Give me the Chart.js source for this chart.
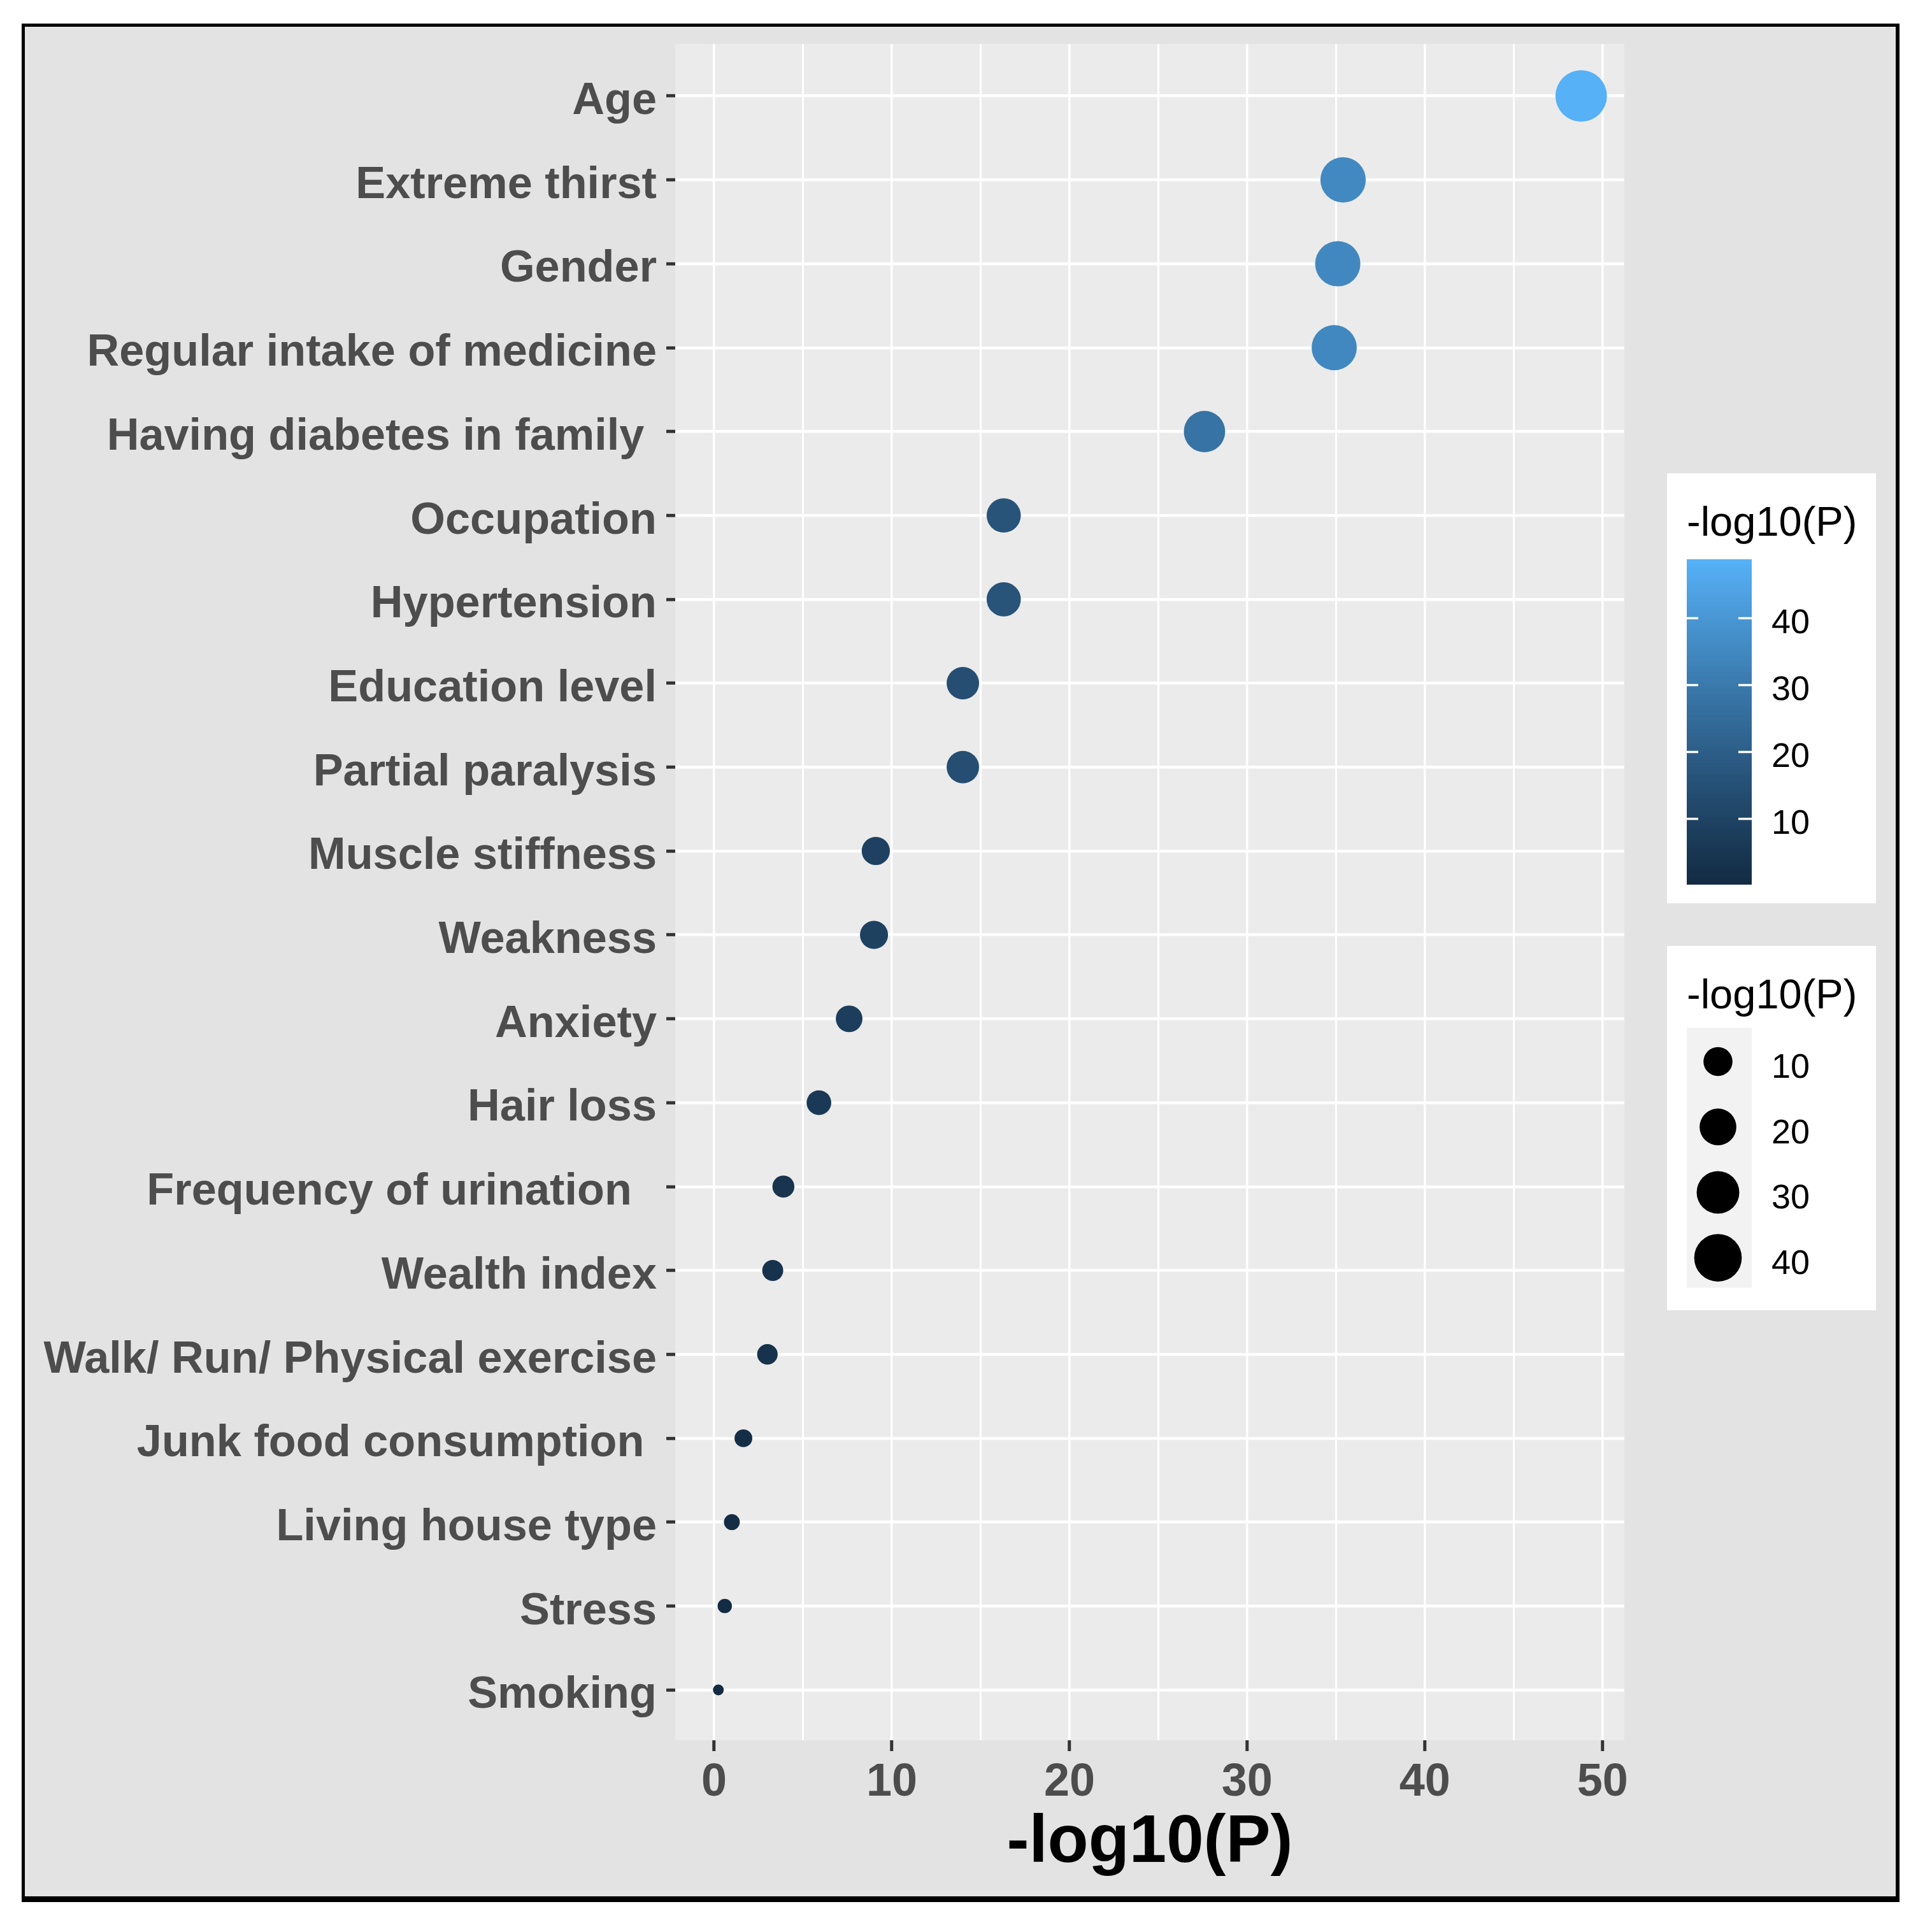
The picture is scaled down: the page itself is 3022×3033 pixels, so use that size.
<!DOCTYPE html>
<html><head><meta charset="utf-8">
<script src="https://cdn.jsdelivr.net/npm/chart.js@4"></script>
<style>html,body{margin:0;padding:0;background:#fff;} canvas{display:block;}</style>
</head><body>
<canvas id="c" width="3022" height="3033" style="width:3022px;height:3033px"></canvas>
<script>
// ---------- DATA ----------
const categories = ["Age","Extreme thirst","Gender","Regular intake of medicine","Having diabetes in family ","Occupation","Hypertension","Education level","Partial paralysis","Muscle stiffness","Weakness","Anxiety","Hair loss","Frequency of urination  ","Wealth index","Walk/ Run/ Physical exercise","Junk food consumption ","Living house type","Stress","Smoking"];
const values = [48.8,35.4,35.1,34.9,27.6,16.3,16.3,14.0,14.0,9.1,9.0,7.6,5.9,3.9,3.3,3.0,1.65,1.0,0.6,0.24];
const xTickValues = [0,10,20,30,40,50];
const xMinorValues = [5,15,25,35,45];
const legendBreaks = [10,20,30,40];
const axisTitle = "-log10(P)";
const legendTitle = "-log10(P)";
const lowColor = "#132B43", highColor = "#56B1F7";

// ---------- helpers ----------
const FONT = "'Liberation Sans', Arial, sans-serif";
const n = categories.length;
const vMin = Math.min(...values), vMax = Math.max(...values);
const span = vMax - vMin;

function hex2rgb(h){return [1,3,5].map(i=>parseInt(h.substr(i,2),16)/255);}
function lin(c){return c<=0.04045?c/12.92:Math.pow((c+0.055)/1.055,2.4);}
function delin(c){return c<=0.0031308?12.92*c:1.055*Math.pow(c,1/2.4)-0.055;}
const Wn=[0.95047,1.0,1.08883];
function f(t){return t>0.008856?Math.cbrt(t):7.787*t+16/116;}
function finv(t){const t3=t*t*t;return t3>0.008856?t3:(t-16/116)/7.787;}
function toLab(h){
  const [r,g,b]=hex2rgb(h).map(lin);
  const X=(0.4124564*r+0.3575761*g+0.1804375*b)/Wn[0];
  const Y=(0.2126729*r+0.7151522*g+0.0721750*b)/Wn[1];
  const Z=(0.0193339*r+0.1191920*g+0.9503041*b)/Wn[2];
  return [116*f(Y)-16,500*(f(X)-f(Y)),200*(f(Y)-f(Z))];
}
function fromLab([L,a,b]){
  const fy=(L+16)/116, fx=a/500+fy, fz=fy-b/200;
  const X=finv(fx)*Wn[0], Y=finv(fy)*Wn[1], Z=finv(fz)*Wn[2];
  let r= 3.2404542*X-1.5371385*Y-0.4985314*Z;
  let g=-0.9692660*X+1.8760108*Y+0.0415560*Z;
  let bb=0.0556434*X-0.2040259*Y+1.0572252*Z;
  return 'rgb('+[r,g,bb].map(c=>Math.round(Math.max(0,Math.min(1,delin(c)))*255)).join(',')+')';
}
const labLo=toLab(lowColor), labHi=toLab(highColor);
function colorOf(v){
  const t=Math.max(0,Math.min(1,(v-vMin)/span));
  return fromLab([0,1,2].map(i=>labLo[i]+(labHi[i]-labLo[i])*t));
}
function radiusOf(v){
  const t=Math.max(0,(v-vMin)/span);
  return 8.5+31.9*Math.sqrt(t);
}

// ---------- plugins ----------
const bgPlugin={
  id:'bg',
  beforeDraw(chart){
    const c=chart.ctx, a=chart.chartArea;
    c.save();
    c.fillStyle='#ffffff'; c.fillRect(0,0,chart.width,chart.height);
    c.fillStyle='#000000'; c.fillRect(34,37,2948,2949);
    c.fillStyle='#E3E3E3'; c.fillRect(39,42,2937,2935);
    c.fillStyle='#EBEBEB'; c.fillRect(a.left,a.top,a.right-a.left,a.bottom-a.top);
    c.restore();
  }
};

const legendPlugin={
  id:'ggLegend',
  afterDraw(chart){
    const c=chart.ctx;
    c.save();
    // colour bar legend
    c.fillStyle='#ffffff'; c.fillRect(2617,743,328,675);
    c.fillStyle='#000000'; c.font='65px '+FONT; c.textAlign='left'; c.textBaseline='alphabetic';
    c.fillText(legendTitle,2648,841);
    const bx=2648,bw=102,bTop=878,bBot=1388;
    const yOf=v=>bBot-(v-vMin)/span*(bBot-bTop);
    const N=300;
    for(let i=0;i<N;i++){
      const v0=vMin+span*i/N, v1=vMin+span*(i+1)/N;
      c.fillStyle=colorOf((v0+v1)/2);
      const y1=yOf(v1), y0=yOf(v0);
      c.fillRect(bx,y1,bw,(y0-y1)+0.8);
    }
    c.strokeStyle='#ffffff'; c.lineWidth=3.5;
    c.font='54px '+FONT; c.fillStyle='#000000';
    legendBreaks.forEach(v=>{
      const y=yOf(v);
      c.beginPath(); c.moveTo(bx,y); c.lineTo(bx+18,y); c.moveTo(bx+bw-21,y); c.lineTo(bx+bw,y); c.stroke();
      c.fillText(String(v),2781,y+24);
    });
    // size legend
    c.fillStyle='#ffffff'; c.fillRect(2617,1485,328,572);
    c.fillStyle='#000000'; c.font='65px '+FONT;
    c.fillText(legendTitle,2648,1583);
    c.fillStyle='#F2F2F2'; c.fillRect(2648,1613.5,102,408);
    c.font='54px '+FONT;
    legendBreaks.forEach((v,k)=>{
      const cy=1666.5+102.7*k;
      c.fillStyle='#000000';
      c.beginPath(); c.arc(2697,cy,radiusOf(v),0,Math.PI*2); c.fill();
      c.fillText(String(v),2781,cy+25.5);
    });
    c.restore();
  }
};

// ---------- chart ----------
const pts=values.map((v,i)=>({x:v,y:n-i}));
new Chart(document.getElementById('c'),{
  type:'scatter',
  data:{datasets:[{
    data:pts,
    pointRadius:ctx=>radiusOf(ctx.raw.x),
    pointHoverRadius:ctx=>radiusOf(ctx.raw.x),
    pointBackgroundColor:ctx=>colorOf(ctx.raw.x),
    pointHoverBackgroundColor:ctx=>colorOf(ctx.raw.x),
    pointBorderWidth:0,
    pointHoverBorderWidth:0,
    clip:false
  }]},
  options:{
    responsive:false,
    devicePixelRatio:1,
    animation:false,
    events:[],
    layout:{padding:{left:0,top:69,right:472,bottom:0}},
    plugins:{legend:{display:false},tooltip:{enabled:false}},
    scales:{
      x:{
        type:'linear',
        min:vMin-0.05*span,
        max:vMax+0.05*span,
        afterBuildTicks:s=>{s.ticks=[...xTickValues,...xMinorValues].sort((a,b)=>a-b).map(v=>({value:v}));},
        afterFit:s=>{s.height=301;},
        border:{display:false},
        grid:{
          color:'#ffffff',
          lineWidth:ctx=>xTickValues.includes(ctx.tick.value)?3.5:3,
          tickColor:ctx=>xTickValues.includes(ctx.tick.value)?'#333333':'rgba(0,0,0,0)',
          tickLength:17,
          tickWidth:5
        },
        ticks:{
          autoSkip:false,maxRotation:0,minRotation:0,
          padding:14,
          color:'#4D4D4D',
          font:{family:FONT,size:72,weight:'bold',lineHeight:1},
          callback:v=>xTickValues.includes(v)?String(v):''
        },
        title:{
          display:true,text:axisTitle,color:'#000000',
          font:{family:FONT,size:105,weight:'bold',lineHeight:1},
          padding:{top:0,bottom:86}
        }
      },
      y:{
        type:'linear',
        min:0.4,
        max:n+0.62,
        afterBuildTicks:s=>{s.ticks=categories.map((c,i)=>({value:n-i}));},
        afterFit:s=>{s.width=1060;},
        border:{display:false},
        grid:{
          color:'#ffffff',
          lineWidth:4.5,
          tickColor:'#333333',
          tickLength:14,
          tickWidth:5
        },
        ticks:{
          autoSkip:false,
          padding:15,
          labelOffset:9,
          color:'#4D4D4D',
          font:{family:FONT,size:70.3,weight:'bold',lineHeight:1},
          callback:v=>categories[n-v]
        }
      }
    }
  },
  plugins:[bgPlugin,legendPlugin]
});
</script>
</body></html>
